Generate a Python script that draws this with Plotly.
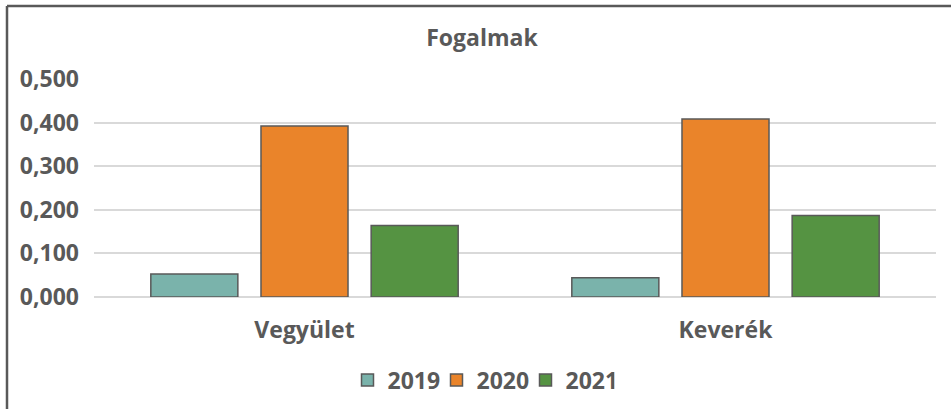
import plotly.graph_objects as go

categories = ["Vegyület", "Keverék"]
series_names = ["2019", "2020", "2021"]
values_2019 = [0.053, 0.044]
values_2020 = [0.392, 0.408]
values_2021 = [0.164, 0.187]
colors = ["#7AB3AB", "#EA842A", "#559342"]
y_ticks = [0.0, 0.1, 0.2, 0.3, 0.4, 0.5]

W, H = 951, 409
L, R, T, B = 94, 15, 79, 112
TXT = "#595959"
FS = 23

fig = go.Figure()
for name, vals, col in zip(series_names, [values_2019, values_2020, values_2021], colors):
    fig.add_trace(go.Bar(
        x=categories, y=vals, name=name,
        marker=dict(color=col, line=dict(color="#595959", width=1.5)),
    ))

pw = W - L - R
ph = H - T - B
def px2x(px):
    return (px - L) / pw
def py2y(py):
    return (H - B - py) / ph

fnt = dict(size=FS, color=TXT, family="Open Sans", weight=700)

fig.update_layout(
    width=W, height=H,
    margin=dict(l=L, r=R, t=T, b=B, autoexpand=False),
    paper_bgcolor="white", plot_bgcolor="white",
    separators=", ",
    font=fnt,
    title=dict(text="Fogalmak", x=482 / W, xref="container", xanchor="center",
               y=1 - 38 / H, yref="container", yanchor="middle", font=fnt),
    barmode="group", bargap=0.215, bargroupgap=0.21,
    showlegend=True,
    legend=dict(orientation="h", xref="container", x=481 / W, xanchor="center",
                yref="container", y=1 - 380 / H, yanchor="middle", font=fnt,
                itemwidth=30, tracegroupgap=0, entrywidth=44),
    xaxis=dict(showgrid=False, showline=False, zeroline=False, ticks="",
               tickfont=fnt, ticklabelstandoff=17),
    yaxis=dict(range=[0, 0.5], tickvals=y_ticks, tickformat=".3f",
               showgrid=True, gridcolor="#D9D9D9", gridwidth=1.5,
               zeroline=True, zerolinecolor="#D9D9D9", zerolinewidth=1.5,
               showline=False, ticks="", tickfont=fnt, ticklabelstandoff=14),
    shapes=[
        dict(type="line", xref="paper", yref="paper",
             x0=px2x(7), x1=px2x(960), y0=py2y(6), y1=py2y(6),
             line=dict(color="#595959", width=2.5)),
        dict(type="line", xref="paper", yref="paper",
             x0=px2x(7), x1=px2x(7), y0=py2y(6), y1=py2y(420),
             line=dict(color="#595959", width=2.5)),
    ],
)

fig.write_html("out.html", config={"displayModeBar": False},
               post_script="document.body.style.margin='0';document.body.style.overflow='hidden';")
